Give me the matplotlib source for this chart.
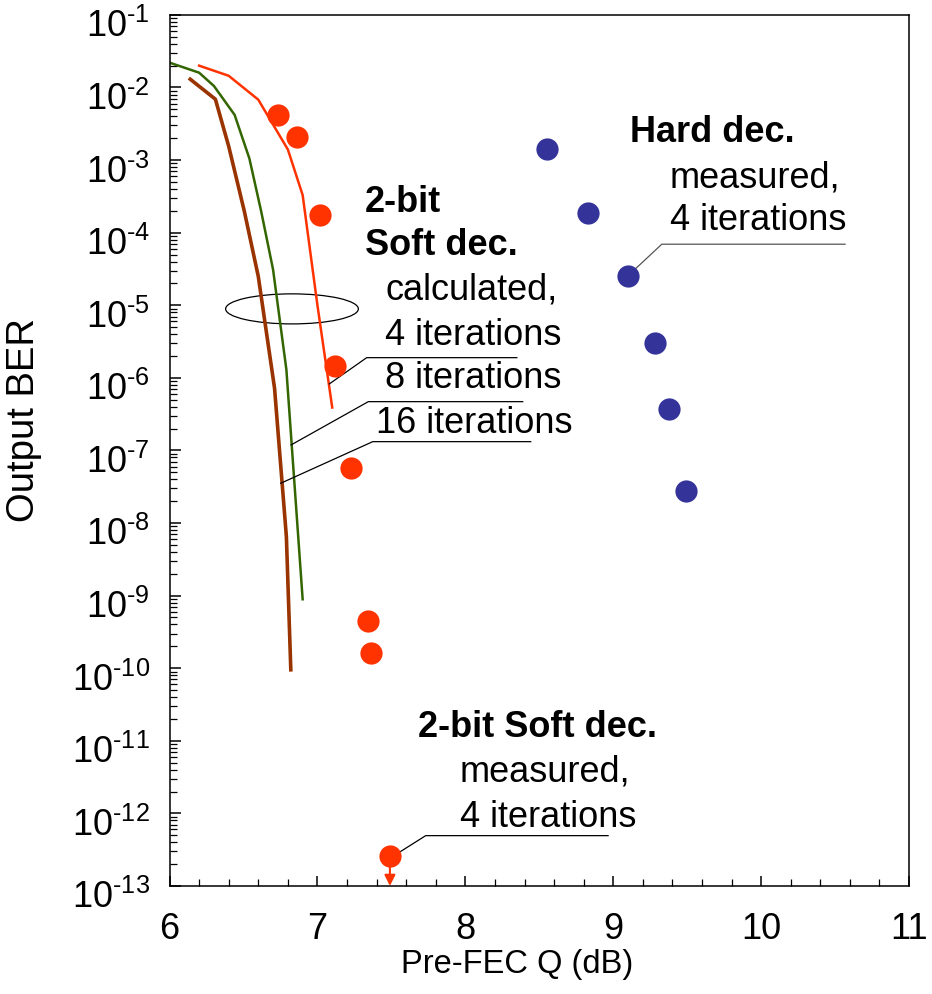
import numpy as np
import matplotlib
matplotlib.use("Agg")
import matplotlib.pyplot as plt
from matplotlib.patches import Ellipse
from matplotlib.transforms import ScaledTranslation
from matplotlib.ticker import LogLocator, MultipleLocator, FuncFormatter

plt.rcParams['font.family'] = ['Liberation Sans', 'DejaVu Sans']
plt.rcParams['mathtext.fontset'] = 'custom'
plt.rcParams['mathtext.rm'] = 'Liberation Sans'
plt.rcParams['mathtext.it'] = 'Liberation Sans'

# Calculated curves (2-bit soft decision)
q_calc4 = [6.20, 6.40, 6.60, 6.80, 6.90, 7.00, 7.10]
ber_calc4 = [2.0e-2, 1.45e-2, 6.8e-3, 1.4e-3, 3.3e-4, 1.0e-5, 3.9e-7]

q_calc8 = [6.00, 6.20, 6.30, 6.44, 6.54, 6.62, 6.70, 6.79, 6.90]
ber_calc8 = [2.2e-2, 1.6e-2, 1.05e-2, 4.2e-3, 1.05e-3, 1.95e-4, 3.1e-5, 1.3e-6, 8.9e-10]

q_calc16 = [6.14, 6.31, 6.40, 6.505, 6.60, 6.71, 6.79, 6.82]
ber_calc16 = [1.3e-2, 6.9e-3, 1.55e-3, 2.0e-4, 2.5e-5, 7.2e-7, 6.5e-9, 9.5e-11]

# Measured points
q_soft = [6.73, 6.86, 7.02, 7.12, 7.23, 7.34, 7.36, 7.49]
ber_soft = [4.2e-3, 2.1e-3, 1.75e-4, 1.45e-6, 5.8e-8, 4.5e-10, 1.6e-10, 2.6e-13]

q_hard = [8.55, 8.83, 9.10, 9.28, 9.38, 9.49]
ber_hard = [1.4e-3, 1.85e-4, 2.5e-5, 3.0e-6, 3.7e-7, 2.8e-8]

red = '#FF3300'
green = '#336600'
brown = '#993300'
blue = '#333399'


def pow10_label(v, pos):
    e = int(round(np.log10(v)))
    # short hyphen like the original, not a long minus sign
    return '$10^{\u2010%d}$' % (-e) if e < 0 else '$10^{%d}$' % e


fig = plt.figure(figsize=(9.32, 9.94), dpi=100)
ax = fig.add_axes([0.1819, 0.1087, 0.7935, 0.8763])

ax.plot(q_calc4, ber_calc4, color=red, lw=1.8)
ax.plot(q_calc8, ber_calc8, color=green, lw=1.8)
ax.plot(q_calc16, ber_calc16, color=brown, lw=2.6)

# error-free point: arrow down to the axis
ax.annotate('', xy=(q_soft[-1], 1e-13), xytext=(q_soft[-1], ber_soft[-1]),
            arrowprops=dict(arrowstyle='-|>', color=red, lw=1.5, mutation_scale=16,
                            shrinkA=0, shrinkB=0))
ax.plot(q_soft, ber_soft, 'o', color=red, ms=16, mec='none', zorder=5)
ax.plot(q_hard, ber_hard, 'o', color=blue, ms=16, mec='none', zorder=5)

ax.set_yscale('log')
ax.set_xlim(6, 11)
ax.set_ylim(1e-13, 1e-1)
ax.xaxis.set_major_locator(MultipleLocator(1))
ax.xaxis.set_minor_locator(MultipleLocator(0.2))
ax.yaxis.set_major_locator(LogLocator(base=10, numticks=30))
ax.yaxis.set_minor_locator(LogLocator(base=10, subs=np.arange(2, 10), numticks=200))
ax.yaxis.set_major_formatter(FuncFormatter(pow10_label))

ax.tick_params(which='both', direction='in', top=False, right=False, labelsize=26)
ax.tick_params(axis='y', which='major', length=8, width=1.1, pad=14)
ax.tick_params(axis='y', which='minor', length=5, width=0.9)
ax.tick_params(axis='x', which='major', length=7, width=1.1, pad=19)
ax.tick_params(axis='x', which='minor', length=5, width=0.9)
for s in ax.spines.values():
    s.set_linewidth(1.1)

ax.set_xlabel('Pre-FEC Q (dB)', fontsize=23.5)
ax.xaxis.set_label_coords(0.47, -0.072)
ax.set_ylabel('Output BER', fontsize=27.5)
ax.yaxis.set_label_coords(-0.172, 0.535)

fs = 26
# calculated group
ax.text(7.322, 10**-3.71, '2-bit', fontsize=fs, fontweight='bold')
ax.text(7.322, 10**-4.307, 'Soft dec.', fontsize=fs, fontweight='bold')
ax.text(7.457, 10**-4.927, 'calculated,', fontsize=fs)
ax.text(7.457, 10**-5.547, '4 iterations', fontsize=fs)
ax.text(7.457, 10**-6.139, '8 iterations', fontsize=fs)
ax.text(7.396, 10**-6.759, '16 iterations', fontsize=fs)
ax.plot([7.080, 7.333, 8.348], [10**-6.084, 10**-5.722, 10**-5.722], color='black', lw=0.9)
ax.plot([6.822, 7.344, 8.388], [10**-6.924, 10**-6.328, 10**-6.328], color='black', lw=0.9)
ax.plot([6.752, 7.374, 8.442], [10**-7.452, 10**-6.879, 10**-6.879], color='black', lw=0.9)
ax.add_patch(Ellipse((0.1656, 0.6625), 0.1795, 0.0345, transform=ax.transAxes,
                     fill=False, ec='black', lw=0.9))

# hard decision group
ax.text(9.114, 10**-2.746, 'Hard dec.', fontsize=fs, fontweight='bold')
ax.text(9.384, 10**-3.384, 'measured,', fontsize=fs)
ax.text(9.384, 10**-3.962, '4 iterations', fontsize=fs)
ax.plot([9.118, 9.328, 10.567], [10**-4.559, 10**-4.159, 10**-4.159], color='#555555', lw=0.9)

# measured soft decision group
ax.text(7.682, 10**-10.943, '2-bit Soft dec.', fontsize=fs, fontweight='bold')
ax.text(7.964, 10**-11.563, 'measured,', fontsize=fs)
ax.text(7.964, 10**-12.183, '4 iterations', fontsize=fs)
ax.plot([7.525, 7.732, 8.965], [10**-12.573, 10**-12.307, 10**-12.307], color='black', lw=0.9)

# the original sets the power labels a little below their ticks
fig.canvas.draw()
shift = ScaledTranslation(0, -6 / 72, fig.dpi_scale_trans)
for tick in ax.yaxis.get_major_ticks():
    tick.label1.set_transform(tick.label1.get_transform() + shift)

fig.savefig('out.png', dpi=100)
